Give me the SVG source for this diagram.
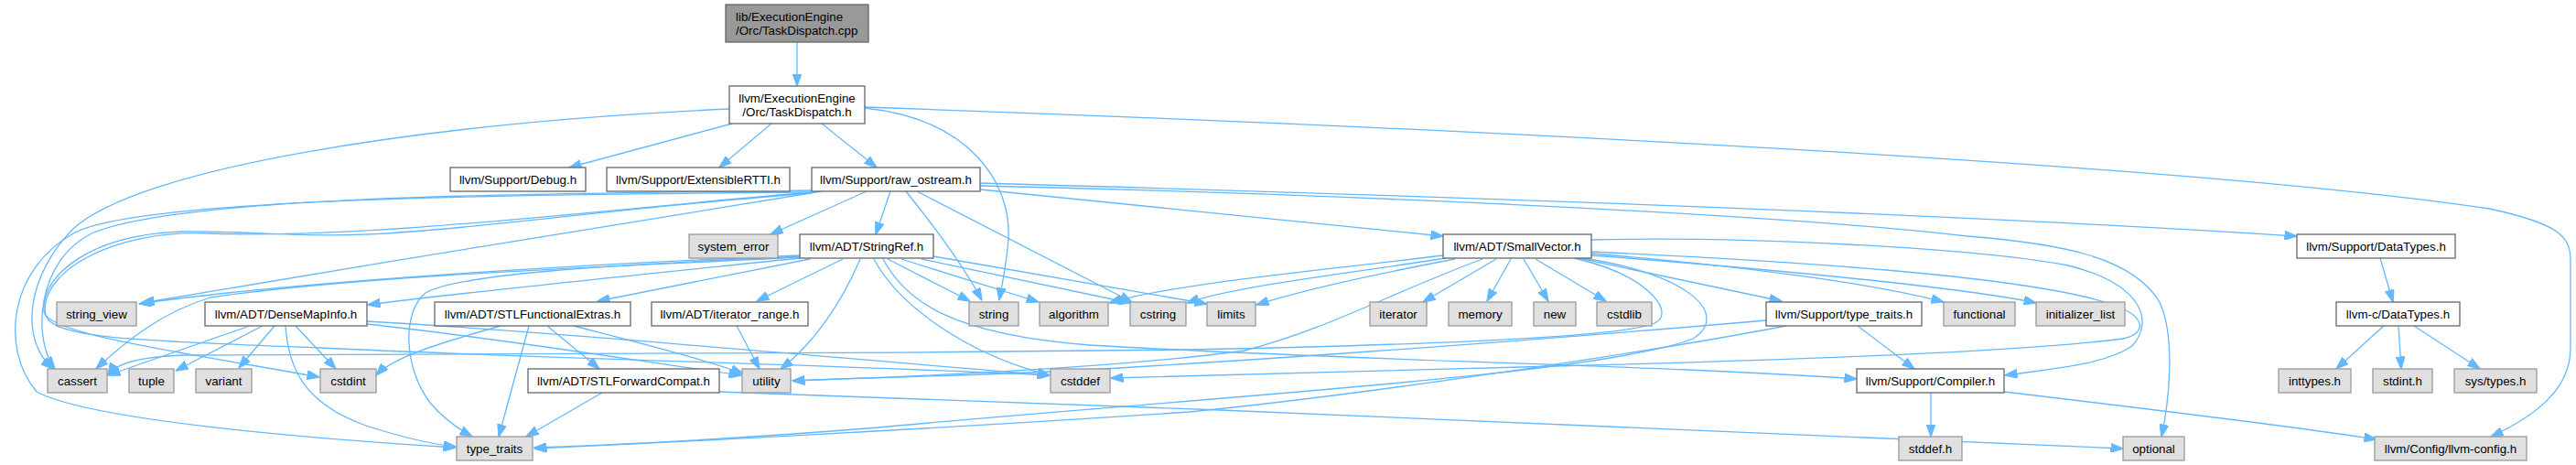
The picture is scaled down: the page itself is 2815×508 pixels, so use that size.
<svg xmlns="http://www.w3.org/2000/svg" width="2815" height="508" viewBox="0 0 2815 508">
<style>
rect.n{fill:#ffffff;stroke:#666666;stroke-width:1.3}
rect.g{fill:#e0e0e0;stroke:#999999;stroke-width:1.3}
rect.r{fill:#999999;stroke:#666666;stroke-width:1.3}
text{font-family:"Liberation Sans",Arial,sans-serif;font-size:13.33px;fill:#000000;text-anchor:middle}
text.l{text-anchor:start}
#edges path{fill:none;stroke:#63b8ff;stroke-width:1.3;marker-end:url(#ah)}
</style>
<defs>
<marker id="ah" markerUnits="userSpaceOnUse" markerWidth="14" markerHeight="10" refX="13.5" refY="5" orient="auto" viewBox="0 0 14 10">
<path d="M0,0 L14,5 L0,10 z" fill="#63b8ff" stroke="#63b8ff" stroke-width="1"/>
</marker>
</defs>
<rect width="2815" height="508" fill="#ffffff"/>
<g id="edges">
<path d="M871,46 L871,94"/>
<path d="M800,135 L622,183"/>
<path d="M843,135 L786,183"/>
<path d="M898,135 L958,183"/>
<path d="M797,119 C450,135 150,185 80,250 C30,300 20,370 58,403"/>
<path d="M945,118 C1060,130 1105,200 1102,260 C1100,290 1095,310 1092,328"/>
<path d="M945,117 C1600,140 2400,180 2720,228 C2800,245 2809,260 2809,285 L2809,380 C2809,420 2780,450 2722,477"/>
<path d="M1071,207 L1577,258"/>
<path d="M973,209 L957,256"/>
<path d="M1071,200 C1500,212 2100,232 2510,258"/>
<path d="M887,208 C600,212 200,212 100,255 C40,285 35,370 60,403"/>
<path d="M887,210 C700,225 400,262 230,255 C120,250 40,300 50,345 C60,370 150,372 350,380 C600,392 900,398 1147,410"/>
<path d="M887,211 C700,225 560,245 450,253 C350,262 280,252 200,253 C100,256 45,300 48,340 C50,365 200,385 349,412"/>
<path d="M1002,209 L1237,330"/>
<path d="M1071,203 C1500,213 1950,235 2150,258 C2250,266 2330,280 2360,330 C2378,370 2370,440 2362,477"/>
<path d="M990,209 C1015,240 1050,285 1073,328"/>
<path d="M898,209 C700,240 400,290 155,331"/>
<path d="M947,209 L842,256"/>
<path d="M887,210 C600,212 150,215 80,255 C10,295 0,380 40,428 C100,460 350,480 498,489"/>
<path d="M874,282 C700,300 500,320 402,333"/>
<path d="M885,283 L653,329"/>
<path d="M921,283 L827,329"/>
<path d="M965,283 C990,330 1040,365 1190,377 C1500,395 1800,398 2029,414"/>
<path d="M985,283 L1135,330"/>
<path d="M874,281 C700,290 400,300 230,325 C180,340 140,370 105,403"/>
<path d="M955,283 C980,330 1050,385 1147,410"/>
<path d="M1007,283 L1235,331"/>
<path d="M1020,280 L1319,332"/>
<path d="M970,283 L1060,329"/>
<path d="M874,279 C600,290 300,310 152,332"/>
<path d="M876,280 C650,290 500,300 465,320 C440,340 440,400 470,440 C485,458 500,468 516,477"/>
<path d="M940,283 C920,330 890,375 853,403"/>
<path d="M1739,262 C1900,258 2150,270 2260,290 C2340,310 2355,350 2330,378 C2300,398 2250,402 2191,410"/>
<path d="M1725,282 L1947,329"/>
<path d="M1577,279 C1450,295 1280,310 1212,331"/>
<path d="M1720,282 C1800,300 1830,340 1810,352 C1780,370 1500,378 1300,382 C900,387 400,388 200,388 C150,390 125,398 118,410"/>
<path d="M1739,275 C1950,285 2200,300 2300,330 C2350,345 2345,365 2320,370 C2200,385 1900,395 1700,400 C1500,405 1300,410 1214,413"/>
<path d="M1678,283 L1755,329"/>
<path d="M1580,282 C1500,295 1350,312 1297,331"/>
<path d="M1739,277 C1900,290 2050,310 2124,330"/>
<path d="M1739,279 C1950,295 2150,315 2225,331"/>
<path d="M1635,283 L1555,330"/>
<path d="M1590,283 C1500,300 1420,318 1373,333"/>
<path d="M1651,283 L1625,329"/>
<path d="M1665,283 L1692,329"/>
<path d="M1730,282 C1850,300 1890,345 1850,370 C1750,410 1300,435 960,467 C800,480 650,487 584,489"/>
<path d="M1620,283 C1520,320 1450,360 1360,383 C1200,405 950,413 866,416"/>
<path d="M273,356 L118,410"/>
<path d="M401,351 C600,362 900,390 1147,410"/>
<path d="M323,356 L367,403"/>
<path d="M287,356 L192,405"/>
<path d="M312,356 C315,400 330,440 400,465 C440,478 470,485 498,488"/>
<path d="M401,354 C550,370 700,395 810,410"/>
<path d="M300,356 L261,402"/>
<path d="M598,356 L655,403"/>
<path d="M547,356 C480,375 430,390 411,410"/>
<path d="M578,356 L545,477"/>
<path d="M627,356 C700,375 760,390 812,408"/>
<path d="M805,356 L830,403"/>
<path d="M786,428 C1300,445 2000,475 2320,490"/>
<path d="M658,429 L575,477"/>
<path d="M2030,356 L2092,403"/>
<path d="M1930,350 C1700,370 1300,400 1100,408 C1000,412 900,414 866,416"/>
<path d="M1952,356 C1800,385 1500,430 1300,450 C1000,470 700,485 584,490"/>
<path d="M2190,428 C2350,447 2500,465 2597,480"/>
<path d="M2110,429 L2110,477"/>
<path d="M2601,282 L2615,330"/>
<path d="M2605,356 L2553,403"/>
<path d="M2621,356 L2624,403"/>
<path d="M2638,356 L2710,403"/>
</g>
<g id="node-root"><rect class="r" x="793" y="5" width="156" height="41"/><text class="l" x="804" y="23">lib/ExecutionEngine</text><text class="l" x="804" y="38">/Orc/TaskDispatch.cpp</text></g>
<g id="node-taskdispatch"><rect class="n" x="797" y="94" width="148" height="41"/><text x="871" y="112">llvm/ExecutionEngine</text><text x="871" y="127">/Orc/TaskDispatch.h</text></g>
<g id="node-debug"><rect class="n" x="492" y="183" width="148" height="26"/><text x="566" y="200.7">llvm/Support/Debug.h</text></g>
<g id="node-extrtti"><rect class="n" x="663" y="183" width="200" height="26"/><text x="763" y="200.7">llvm/Support/ExtensibleRTTI.h</text></g>
<g id="node-raw"><rect class="n" x="887" y="183" width="184" height="26"/><text x="979" y="200.7">llvm/Support/raw_ostream.h</text></g>
<g id="node-system_error"><rect class="g" x="753" y="256" width="97" height="26"/><text x="801.5" y="273.7">system_error</text></g>
<g id="node-stringref"><rect class="n" x="874" y="256" width="146" height="26"/><text x="947" y="273.7">llvm/ADT/StringRef.h</text></g>
<g id="node-smallvector"><rect class="n" x="1577" y="256" width="162" height="26"/><text x="1658" y="273.7">llvm/ADT/SmallVector.h</text></g>
<g id="node-datatypes"><rect class="n" x="2510" y="256" width="173" height="26"/><text x="2596.5" y="273.7">llvm/Support/DataTypes.h</text></g>
<g id="node-string_view"><rect class="g" x="62" y="330" width="87" height="26"/><text x="105.5" y="347.7">string_view</text></g>
<g id="node-densemapinfo"><rect class="n" x="224" y="330" width="177" height="26"/><text x="312.5" y="347.7">llvm/ADT/DenseMapInfo.h</text></g>
<g id="node-stlfe"><rect class="n" x="475" y="330" width="214" height="26"/><text x="582" y="347.7">llvm/ADT/STLFunctionalExtras.h</text></g>
<g id="node-iterrange"><rect class="n" x="712" y="330" width="171" height="26"/><text x="797.5" y="347.7">llvm/ADT/iterator_range.h</text></g>
<g id="node-string"><rect class="g" x="1059" y="330" width="54" height="26"/><text x="1086" y="347.7">string</text></g>
<g id="node-algorithm"><rect class="g" x="1136" y="330" width="75" height="26"/><text x="1173.5" y="347.7">algorithm</text></g>
<g id="node-cstring"><rect class="g" x="1235" y="330" width="61" height="26"/><text x="1265.5" y="347.7">cstring</text></g>
<g id="node-limits"><rect class="g" x="1319" y="330" width="53" height="26"/><text x="1345.5" y="347.7">limits</text></g>
<g id="node-iterator"><rect class="g" x="1497" y="330" width="62" height="26"/><text x="1528" y="347.7">iterator</text></g>
<g id="node-memory"><rect class="g" x="1583" y="330" width="69" height="26"/><text x="1617.5" y="347.7">memory</text></g>
<g id="node-new"><rect class="g" x="1676" y="330" width="46" height="26"/><text x="1699" y="347.7">new</text></g>
<g id="node-cstdlib"><rect class="g" x="1745" y="330" width="60" height="26"/><text x="1775" y="347.7">cstdlib</text></g>
<g id="node-typetraitsh"><rect class="n" x="1930" y="330" width="170" height="26"/><text x="2015" y="347.7">llvm/Support/type_traits.h</text></g>
<g id="node-functional"><rect class="g" x="2124" y="330" width="78" height="26"/><text x="2163" y="347.7">functional</text></g>
<g id="node-initializer_list"><rect class="g" x="2225" y="330" width="97" height="26"/><text x="2273.5" y="347.7">initializer_list</text></g>
<g id="node-llvmcdatatypes"><rect class="n" x="2553" y="330" width="135" height="26"/><text x="2620.5" y="347.7">llvm-c/DataTypes.h</text></g>
<g id="node-cassert"><rect class="g" x="52" y="403" width="65" height="26"/><text x="84.5" y="420.7">cassert</text></g>
<g id="node-tuple"><rect class="g" x="141" y="403" width="49" height="26"/><text x="165.5" y="420.7">tuple</text></g>
<g id="node-variant"><rect class="g" x="214" y="403" width="61" height="26"/><text x="244.5" y="420.7">variant</text></g>
<g id="node-cstdint"><rect class="g" x="350" y="403" width="61" height="26"/><text x="380.5" y="420.7">cstdint</text></g>
<g id="node-stlfc"><rect class="n" x="577" y="403" width="209" height="26"/><text x="681.5" y="420.7">llvm/ADT/STLForwardCompat.h</text></g>
<g id="node-utility"><rect class="g" x="811" y="403" width="53" height="26"/><text x="837.5" y="420.7">utility</text></g>
<g id="node-cstddef"><rect class="g" x="1148" y="403" width="65" height="26"/><text x="1180.5" y="420.7">cstddef</text></g>
<g id="node-compiler"><rect class="n" x="2029" y="403" width="161" height="26"/><text x="2109.5" y="420.7">llvm/Support/Compiler.h</text></g>
<g id="node-inttypes"><rect class="g" x="2490" y="403" width="79" height="26"/><text x="2529.5" y="420.7">inttypes.h</text></g>
<g id="node-stdint"><rect class="g" x="2593" y="403" width="65" height="26"/><text x="2625.5" y="420.7">stdint.h</text></g>
<g id="node-systypes"><rect class="g" x="2682" y="403" width="90" height="26"/><text x="2727" y="420.7">sys/types.h</text></g>
<g id="node-type_traits"><rect class="g" x="499" y="477" width="83" height="26"/><text x="540.5" y="494.7">type_traits</text></g>
<g id="node-stddef"><rect class="g" x="2075" y="477" width="69" height="26"/><text x="2109.5" y="494.7">stddef.h</text></g>
<g id="node-optional"><rect class="g" x="2320" y="477" width="67" height="26"/><text x="2353.5" y="494.7">optional</text></g>
<g id="node-llvmconfig"><rect class="g" x="2595" y="477" width="166" height="26"/><text x="2678" y="494.7">llvm/Config/llvm-config.h</text></g>
</svg>
